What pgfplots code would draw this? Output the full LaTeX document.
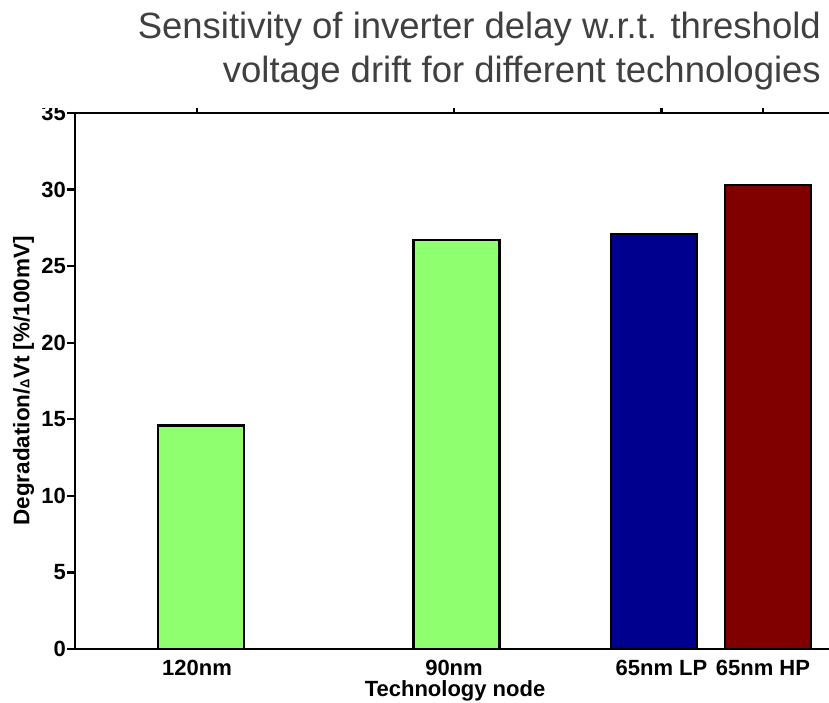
\documentclass[border=0pt]{standalone}
\usepackage{pgfplots}
\pgfplotsset{compat=1.18}
\usepackage{fontspec}
\setmainfont{Liberation Sans}
\definecolor{jetgreen}{RGB}{143,255,112}
\definecolor{jetblue}{RGB}{0,0,143}
\definecolor{jetred}{RGB}{128,0,0}
\definecolor{titlegray}{RGB}{64,64,64}
\begin{document}
\begin{tikzpicture}
\useasboundingbox (0,0) rectangle (829pt,702pt);
\begin{axis}[
  at={(75pt,53pt)}, anchor=south west,
  scale only axis, width=754pt, height=536pt,
  xmin=75, xmax=829, ymin=0, ymax=35,
  axis x line*=box, axis y line*=left,
  axis line style={line width=2.7pt},
  ytick={0,5,...,35},
  xtick={197,454,661.5,763},
  xticklabels={120nm,90nm,65nm LP,65nm HP},
  xtick pos=right, xticklabel pos=left,
  ytick pos=left,
  xtick align=inside, ytick align=outside,
  major tick length=8pt,
  every tick/.style={black, line width=2.4pt},
  tick label style={font=\fontsize{22}{22}\selectfont\bfseries},
  yticklabel style={inner sep=1pt},
  /pgf/number format/assume math mode=true,
  xlabel={Technology node},
  xlabel style={font=\fontsize{22}{22}\selectfont\bfseries, at={(axis description cs:0.504,0)}, anchor=base, yshift=-47pt},
  ylabel={Degradation/{\fontsize{13}{13}\selectfont Δ}Vt [\%/100mV]},
  ylabel style={font=\fontsize{22.5}{22.5}\selectfont\bfseries, at={(axis description cs:-0.0683,0.5)}, anchor=center},
  ybar, bar shift=0pt, bar width=86pt,
  every axis plot/.append style={draw=black, line width=2.2pt},
]
\addplot[fill=jetgreen] coordinates {(201,14.6) (456.5,26.7)};
\addplot[fill=jetblue] coordinates {(654,27.1)};
\addplot[fill=jetred] coordinates {(768,30.3)};
\end{axis}
\fill[white] (0,594pt) rectangle (829pt,702pt);
\node[anchor=base east, text=titlegray, font=\fontsize{36.5}{36.5}\selectfont, inner sep=0pt] at (821pt,663pt) {Sensitivity of inverter delay w.r.t. threshold};
\node[anchor=base east, text=titlegray, font=\fontsize{36.5}{36.5}\selectfont, inner sep=0pt] at (821pt,619pt) {voltage drift for different technologies};
\end{tikzpicture}
\end{document}
